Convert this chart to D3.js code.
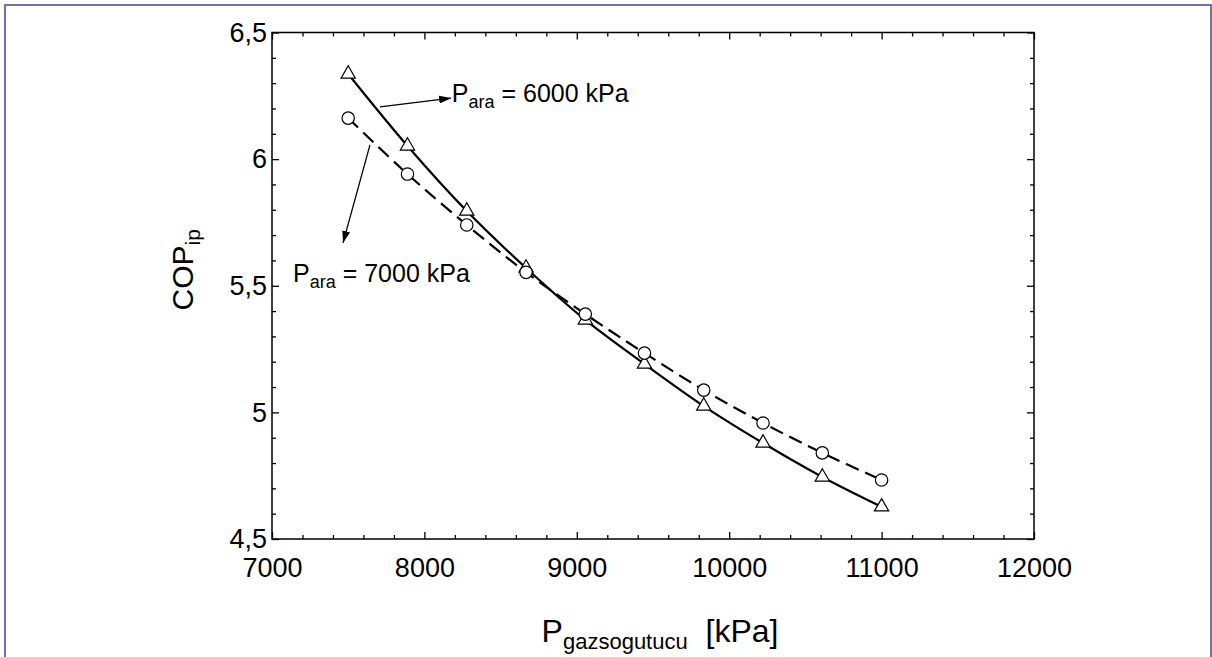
<!DOCTYPE html>
<html>
<head>
<meta charset="utf-8">
<script src="https://cdn.jsdelivr.net/npm/d3@7"></script>
<style>
  body { margin: 0; background: #fff; }
  svg { display: block; font-family: Arial, "Liberation Sans", sans-serif; }
  .axis text { font-size: 27px; fill: #000; }
  .axis line { stroke: #000; stroke-width: 1.3px; }
  .axis path { display: none; }
</style>
</head>
<body>
<svg id="chart"></svg>
<script>
// gas cooler pressure [kPa]
const pressures = [7500, 7889, 8278, 8667, 9056, 9444, 9833, 10222, 10611, 11000];
// COP at intermediate pressure 6000 kPa (triangles, solid)
const cop6000 = [6.336, 6.052, 5.795, 5.570, 5.365, 5.191, 5.025, 4.879, 4.745, 4.627];
// COP at intermediate pressure 7000 kPa (circles, dashed)
const cop7000 = [6.162, 5.941, 5.740, 5.553, 5.388, 5.234, 5.088, 4.958, 4.840, 4.733];

const xTicks = [7000, 8000, 9000, 10000, 11000, 12000];
const yTicks = [4.5, 5, 5.5, 6, 6.5];

class LineChart {
  constructor(_config) {
    this.config = {
      parentElement: _config.parentElement,
      containerWidth: _config.containerWidth || 1212,
      containerHeight: _config.containerHeight || 657,
      margin: _config.margin || { top: 32.5, right: 178, bottom: 118, left: 272 },
    };
    this.initVis();
  }

  initVis() {
    const vis = this;
    vis.width = vis.config.containerWidth - vis.config.margin.left - vis.config.margin.right;
    vis.height = vis.config.containerHeight - vis.config.margin.top - vis.config.margin.bottom;

    vis.svg = d3.select(vis.config.parentElement)
      .attr('width', vis.config.containerWidth)
      .attr('height', vis.config.containerHeight);

    // outer frame of the figure
    vis.svg.append('rect')
      .attr('x', 5).attr('y', 5)
      .attr('width', 1206).attr('height', 720)
      .attr('fill', 'none')
      .attr('stroke', '#6f6fb2')
      .attr('stroke-width', 2);

    vis.chart = vis.svg.append('g')
      .attr('transform', `translate(${vis.config.margin.left},${vis.config.margin.top})`);

    vis.xScale = d3.scaleLinear().domain([7000, 12000]).range([0, vis.width]);
    vis.yScale = d3.scaleLinear().domain([4.5, 6.5]).range([vis.height, 0]);

    const fmt = (d) => String(d).replace('.', ',');
    const minorX = d3.range(7000, 12001, 200).filter((d) => d % 1000 !== 0);
    const minorY = d3.range(45, 66, 1).filter((d) => d % 5 !== 0).map((d) => d / 10);

    // bottom + top
    vis.chart.append('g').attr('class', 'axis')
      .attr('transform', `translate(0,${vis.height})`)
      .call(d3.axisBottom(vis.xScale).tickValues(xTicks).tickSize(-7).tickPadding(19).tickFormat(d3.format('d')));
    vis.chart.append('g').attr('class', 'axis')
      .attr('transform', `translate(0,${vis.height})`)
      .call(d3.axisBottom(vis.xScale).tickValues(minorX).tickSize(-4).tickFormat(''));
    vis.chart.append('g').attr('class', 'axis')
      .call(d3.axisTop(vis.xScale).tickValues(xTicks).tickSize(-7).tickFormat(''));
    vis.chart.append('g').attr('class', 'axis')
      .call(d3.axisTop(vis.xScale).tickValues(minorX).tickSize(-4).tickFormat(''));

    // left + right
    vis.chart.append('g').attr('class', 'axis')
      .call(d3.axisLeft(vis.yScale).tickValues(yTicks).tickSize(-7).tickPadding(5).tickFormat(fmt));
    vis.chart.append('g').attr('class', 'axis')
      .call(d3.axisLeft(vis.yScale).tickValues(minorY).tickSize(-4).tickFormat(''));
    vis.chart.append('g').attr('class', 'axis')
      .attr('transform', `translate(${vis.width},0)`)
      .call(d3.axisRight(vis.yScale).tickValues(yTicks).tickSize(-7).tickFormat(''));
    vis.chart.append('g').attr('class', 'axis')
      .attr('transform', `translate(${vis.width},0)`)
      .call(d3.axisRight(vis.yScale).tickValues(minorY).tickSize(-4).tickFormat(''));

    // plot frame
    vis.chart.append('rect')
      .attr('width', vis.width).attr('height', vis.height)
      .attr('fill', 'none').attr('stroke', '#000').attr('stroke-width', 1.5);

    // axis titles
    const xt = vis.chart.append('text')
      .attr('x', vis.width / 2 + 7)
      .attr('y', vis.height + 103)
      .attr('text-anchor', 'middle')
      .style('font-size', '32px');
    xt.append('tspan').text('P');
    xt.append('tspan').attr('dy', 7).style('font-size', '22px').text('gazsogutucu');
    xt.append('tspan').attr('dy', -7).text('\u00a0 [kPa]');

    const yt = vis.chart.append('text')
      .attr('transform', `translate(${-79},${vis.height / 2 - 16}) rotate(-90)`)
      .attr('text-anchor', 'middle')
      .style('font-size', '30px');
    yt.append('tspan').text('COP');
    yt.append('tspan').attr('dy', 7).style('font-size', '21px').text('ip');

    vis.svg.append('defs').append('marker')
      .attr('id', 'arrow')
      .attr('viewBox', '0 0 12 8')
      .attr('refX', 12).attr('refY', 4)
      .attr('markerWidth', 12).attr('markerHeight', 8)
      .attr('markerUnits', 'userSpaceOnUse')
      .attr('orient', 'auto')
      .append('path')
      .attr('d', 'M0,0L12,4L0,8Z')
      .attr('fill', '#000');

    vis.renderVis();
  }

  renderVis() {
    const vis = this;
    const x = vis.xScale;
    const y = vis.yScale;

    const series = [
      { key: 'p6000', values: cop6000, dash: null, symbol: 'triangle' },
      { key: 'p7000', values: cop7000, dash: '14,7', symbol: 'circle' },
    ];

    const line = d3.line()
      .x((d) => x(d[0]))
      .y((d) => y(d[1]))
      .curve(d3.curveCatmullRom);

    series.forEach((s) => {
      const pts = pressures.map((p, i) => [p, s.values[i]]);
      vis.chart.append('path')
        .datum(pts)
        .attr('d', line)
        .attr('fill', 'none')
        .attr('stroke', '#000')
        .attr('stroke-width', 2.2)
        .attr('stroke-dasharray', s.dash);
      s.pts = pts;
    });

    const tri = d3.symbol().type(d3.symbolTriangle).size(88);
    series.forEach((s) => {
      const g = vis.chart.append('g');
      if (s.symbol === 'triangle') {
        g.selectAll('path').data(s.pts).join('path')
          .attr('d', tri)
          .attr('transform', (d) => `translate(${x(d[0])},${y(d[1])})`)
          .attr('fill', '#fff').attr('stroke', '#000').attr('stroke-width', 1.2);
      } else {
        g.selectAll('circle').data(s.pts).join('circle')
          .attr('cx', (d) => x(d[0])).attr('cy', (d) => y(d[1])).attr('r', 6.2)
          .attr('fill', '#fff').attr('stroke', '#000').attr('stroke-width', 1.2);
      }
    });

    // annotations
    const notes = [
      { from: [7709, 6.206], to: [8175, 6.241], text: [8180, 6.226], label: '6000' },
      { from: [7643, 6.056], to: [7466, 5.669], text: [7138, 5.515], label: '7000' },
    ];
    notes.forEach((n) => {
      vis.chart.append('line')
        .attr('x1', x(n.from[0])).attr('y1', y(n.from[1]))
        .attr('x2', x(n.to[0])).attr('y2', y(n.to[1]))
        .attr('stroke', '#000').attr('stroke-width', 1.3)
        .attr('marker-end', 'url(#arrow)');
      const t = vis.chart.append('text')
        .attr('x', x(n.text[0])).attr('y', y(n.text[1]))
        .style('font-size', '25px');
      t.append('tspan').text('P');
      t.append('tspan').attr('dy', 6).style('font-size', '18px').text('ara');
      t.append('tspan').attr('dy', -6).text(` = ${n.label} kPa`);
    });
  }
}

const chart = new LineChart({ parentElement: '#chart' });
</script>
</body>
</html>
